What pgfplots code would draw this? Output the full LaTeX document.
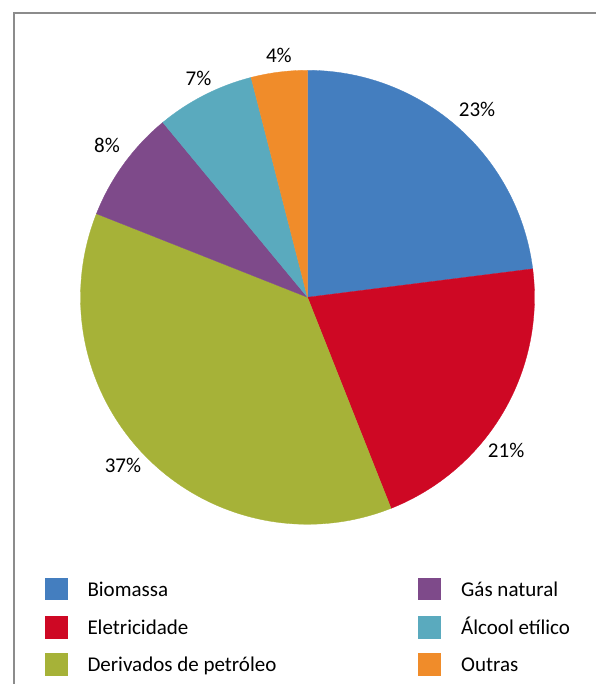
\documentclass[border=0pt]{standalone}
\usepackage{fontspec}
\setmainfont{Carlito}
\usepackage{pgfplots}
\usepackage{pgfplotstable}
\pgfplotsset{compat=1.18}

\definecolor{c0}{RGB}{68,126,191}
\definecolor{c1}{RGB}{206,8,36}
\definecolor{c2}{RGB}{166,178,56}
\definecolor{c3}{RGB}{126,74,138}
\definecolor{c4}{RGB}{90,170,190}
\definecolor{c5}{RGB}{240,140,42}
\definecolor{framegray}{RGB}{140,140,140}

\pgfplotstableread{
name value
Biomassa 23
Eletricidade 21
Derivados 37
GasNatural 8
AlcoolEtilico 7
Outras 4
}\pietable

\pgfplotstableread{
x y lab
0.747 0.827 23
0.875 -0.673 21
-0.813 -0.739 37
-0.883 0.669 8
-0.480 0.962 7
-0.126 1.067 4
}\labtable

\begin{document}
\begin{tikzpicture}[x=1pt,y=1pt]
\useasboundingbox (0,0) rectangle (596,684);
\draw[color=framegray, line width=1.3pt] (14,0) -- (14,671) -- (596,671);
\begin{axis}[at={(307.5pt,386.7pt)}, anchor=center, scale only axis,
  width=454pt, height=454pt, xmin=-1, xmax=1, ymin=-1, ymax=1,
  hide axis, clip=false]
\gdef\startang{90}
\pgfplotsforeachungrouped \i in {0,...,5}{%
  \pgfplotstablegetelem{\i}{value}\of\pietable
  \pgfmathsetmacro\endang{\startang-3.6*\pgfplotsretval}%
  \edef\tmp{\noexpand\addplot[fill=c\i, draw=c\i, line width=0.3pt, domain=\endang:\startang, samples=90, variable=\noexpand\t, forget plot] ({cos(\noexpand\t)},{sin(\noexpand\t)}) -- (axis cs:0,0) -- cycle;}%
  \tmp
  \global\let\startang\endang
}
\addplot[draw=none, mark=none, nodes near coords={\pgfplotspointmeta\%},
  point meta=explicit symbolic, nodes near coords align=center,
  every node near coord/.append style={font=\fontsize{21}{25}\selectfont, text=black, inner sep=0pt}]
  table[x=x, y=y, meta=lab]{\labtable};
\end{axis}
% legend
\begin{scope}[every node/.style={anchor=base west, inner sep=0pt, font=\fontsize{21}{25}\selectfont}]
\fill[c0] (45,83.7) rectangle (67.7,105.7);
\node at (87.3,87.3) {Biomassa};
\fill[c1] (45,45.3) rectangle (67.7,68);
\node at (87.3,49.7) {Eletricidade};
\fill[c2] (45,8) rectangle (67.7,30.7);
\node at (87.3,12.3) {Derivados de petróleo};
\fill[c3] (417.7,83.7) rectangle (441,105.7);
\node at (461,87.3) {Gás natural};
\fill[c4] (417.7,45.3) rectangle (441,68);
\node at (461,49.7) {Álcool etílico};
\fill[c5] (417.7,8) rectangle (441,30.7);
\node at (461,12.3) {Outras};
\end{scope}
\end{tikzpicture}
\end{document}
